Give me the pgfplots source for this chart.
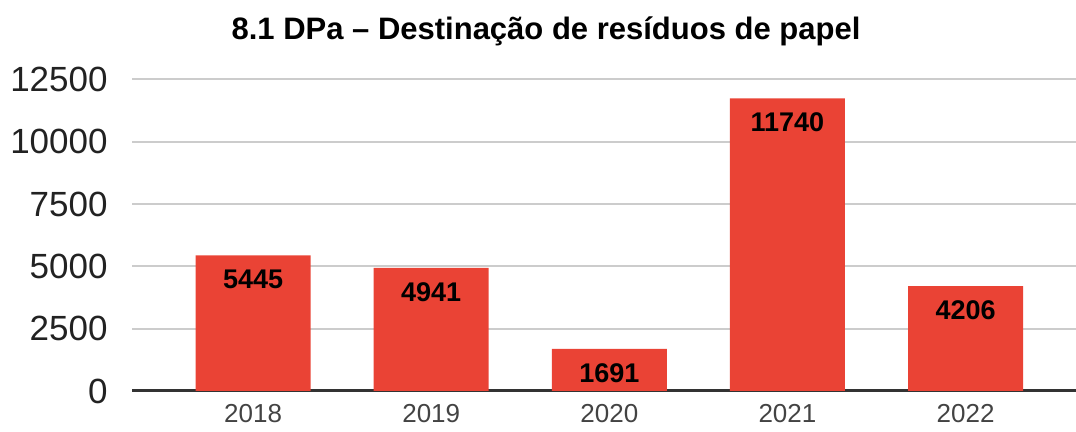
\documentclass[border=0pt]{standalone}
\usepackage{fontspec}
\setmainfont{Liberation Sans}
\usepackage{pgfplots}
\pgfplotsset{compat=1.18}
\definecolor{barred}{HTML}{EA4335}
\definecolor{gridgray}{HTML}{CCCCCC}
\definecolor{zeroline}{HTML}{333333}
\definecolor{ticktext}{HTML}{222222}
\begin{document}
\begin{tikzpicture}
\path[use as bounding box] (0pt,0pt) rectangle (538pt,216pt);
\node[font=\bfseries\fontsize{15.5}{18}\selectfont] at (273pt,200.5pt)
  {8.1 DPa – Destinação de resíduos de papel};
\begin{axis}[
    at={(66pt,20.5pt)}, anchor=south west,
    scale only axis,
    width=472pt, height=155.75pt,
    xmin=-0.68, xmax=4.62,
    ymin=0, ymax=12500,
    ybar, bar width=57.5pt,
    axis line style={draw=none},
    major tick length=0pt,
    xtick=data,
    xticklabels={2018,2019,2020,2021,2022},
    ytick={2500,5000,7500,10000,12500},
    scaled y ticks=false,
    extra y ticks={0},
    extra y tick style={grid style={zeroline, line width=1.5pt}},
    ymajorgrids,
    grid style={gridgray, line width=1pt},
    /pgf/number format/assume math mode=true,
    /pgf/number format/1000 sep={},
    yticklabel style={font=\fontsize{17.5}{20}\selectfont, text=ticktext,
      anchor=east, inner sep=0pt, xshift=-12pt,
      /pgf/number format/fixed, /pgf/number format/1000 sep={}},
    xticklabel style={font=\fontsize{13}{15}\selectfont, text=ticktext!85!white,
      anchor=north, inner sep=0pt, yshift=-6.5pt},
    nodes near coords,
    every node near coord/.append style={font=\bfseries\fontsize{13.5}{16}\selectfont,
      text=black, anchor=north, inner sep=0pt, yshift=-7pt,
      /pgf/number format/fixed, /pgf/number format/1000 sep={}},
]
\addplot[fill=barred, draw=none] coordinates {
    (0,5445) (1,4941) (2,1691) (3,11740) (4,4206)
};
\end{axis}
\end{tikzpicture}
\end{document}
